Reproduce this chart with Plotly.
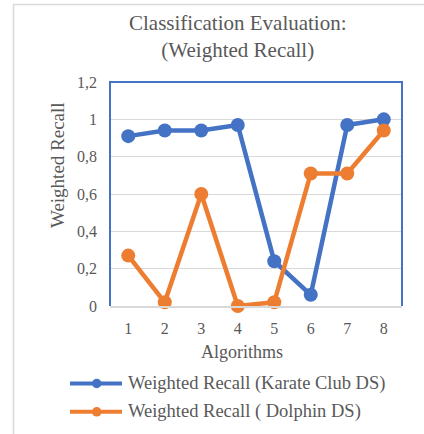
import plotly.graph_objects as go

# Algorithm indices and weighted recall per dataset
algorithms = [1, 2, 3, 4, 5, 6, 7, 8]
karate_recall = [0.91, 0.94, 0.94, 0.97, 0.24, 0.06, 0.97, 1.00]
dolphin_recall = [0.27, 0.02, 0.60, 0.00, 0.02, 0.71, 0.71, 0.94]

y_tickvals = [0, 0.2, 0.4, 0.6, 0.8, 1.0, 1.2]
y_ticktext = ["0", "0,2", "0,4", "0,6", "0,8", "1", "1,2"]

series_names = ["Weighted Recall (Karate Club DS)", "Weighted Recall ( Dolphin DS)"]
BLUE = "#4472C4"
ORANGE = "#ED7D31"
TEXT = "#595959"
GRID = "#D9D9D9"
FONT = "Liberation Serif"

W, H = 424, 434
L, R, T, B = 110, 22, 82, 128
PW, PH = W - L - R, H - T - B


def px(x):
    return (x - L) / PW


def py(y):
    return (H - B - y) / PH


fig = go.Figure()
for vals, color, name in [(karate_recall, BLUE, series_names[0]),
                          (dolphin_recall, ORANGE, series_names[1])]:
    fig.add_trace(go.Scatter(
        x=algorithms, y=vals, mode="lines+markers", name=name,
        line=dict(color=color, width=4.5),
        marker=dict(color=color, size=14),
        cliponaxis=False, showlegend=False,
    ))

shapes = []
# outer chart border (left and top edges)
shapes.append(dict(type="path", xref="paper", yref="paper",
                   path=f"M {px(13.5)},{py(434)} L {px(13.5)},{py(4.5)} L {px(424)},{py(4.5)}",
                   line=dict(color=GRID, width=1.5), layer="below"))
# plot-area frame on left, top and right
shapes.append(dict(type="path", xref="paper", yref="paper",
                   path="M 0,0 L 0,1 L 1,1 L 1,0",
                   line=dict(color=BLUE, width=2), layer="above"))

annotations = [
    dict(text="Classification Evaluation:<br>(Weighted Recall)", xref="paper", yref="paper",
         x=px(238), y=py(36), showarrow=False, xanchor="center", yanchor="middle",
         font=dict(family=FONT, size=21, color=TEXT)),
    dict(text="Weighted Recall", xref="paper", yref="paper", x=px(57), y=py(165),
         textangle=-90, showarrow=False, xanchor="center", yanchor="middle",
         font=dict(family=FONT, size=19, color=TEXT)),
    dict(text="Algorithms", xref="paper", yref="paper", x=px(242), y=py(351.5),
         showarrow=False, xanchor="center", yanchor="middle",
         font=dict(family=FONT, size=18, color=TEXT)),
]

# legend entries
for i, (name, color) in enumerate(zip(series_names, [BLUE, ORANGE])):
    yy = 383.5 + i * 28.3
    shapes.append(dict(type="line", xref="paper", yref="paper",
                       x0=px(70), x1=px(122), y0=py(yy), y1=py(yy),
                       line=dict(color=color, width=4)))
    shapes.append(dict(type="circle", xref="paper", yref="paper",
                       x0=px(92), x1=px(101.5), y0=py(yy + 4.75), y1=py(yy - 4.75),
                       fillcolor=color, line=dict(color=color, width=0)))
    annotations.append(dict(text=name, xref="paper", yref="paper", x=px(126), y=py(yy),
                            showarrow=False, xanchor="left", yanchor="middle",
                            font=dict(family=FONT, size=18.5, color=TEXT)))

fig.update_layout(
    width=W, height=H,
    margin=dict(l=L, r=R, t=T, b=B),
    paper_bgcolor="white", plot_bgcolor="white",
    shapes=shapes, annotations=annotations,
    showlegend=False,
    xaxis=dict(range=[0.5, 8.5], tickvals=algorithms, showgrid=False, zeroline=False,
               showline=True, linecolor=GRID, linewidth=1.5, ticks="",
               ticklabelstandoff=7,
               tickfont=dict(family=FONT, size=16, color=TEXT), fixedrange=True),
    yaxis=dict(range=[0, 1.2], tickvals=y_tickvals, ticktext=y_ticktext,
               showgrid=True, gridcolor=GRID, gridwidth=1.2, zeroline=False,
               showline=False, ticks="", ticklabelstandoff=12,
               tickfont=dict(family=FONT, size=16, color=TEXT), fixedrange=True),
)

fig.write_html("out.html")
